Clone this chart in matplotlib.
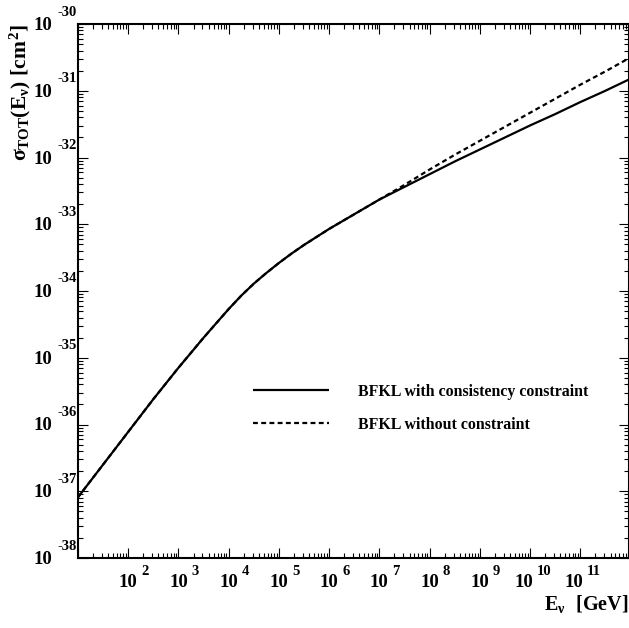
import numpy as np
import matplotlib
matplotlib.use('Agg')
import matplotlib.pyplot as plt
import matplotlib.transforms as mtransforms
from matplotlib.ticker import LogLocator, NullFormatter

# ---- data (log10 values) ----
log_E = [1.0, 1.5, 2.0, 2.5, 3.0, 3.5, 4.0, 4.25, 4.5, 4.75, 5.0, 5.25, 5.5,
         6.0, 6.5, 7.0, 7.5, 8.0, 8.5, 9.0, 9.5, 10.0, 10.5, 11.0, 11.5, 12.0]
log_sigma_constraint = [-37.09, -36.60, -36.11, -35.62, -35.15, -34.70, -34.27,
                        -34.07, -33.89, -33.73, -33.58, -33.44, -33.31,
                        -33.07, -32.85, -32.63, -32.44, -32.25, -32.06, -31.88,
                        -31.70, -31.52, -31.35, -31.17, -31.00, -30.82]
log_sigma_noconstraint = [-37.09, -36.60, -36.11, -35.62, -35.15, -34.70, -34.27,
                          -34.07, -33.89, -33.73, -33.58, -33.44, -33.31,
                          -33.07, -32.85, -32.63, -32.41, -32.18, -31.96, -31.75,
                          -31.54, -31.33, -31.12, -30.91, -30.71, -30.50]
x_tick_exps = [2, 3, 4, 5, 6, 7, 8, 9, 10, 11]
y_tick_exps = [-38, -37, -36, -35, -34, -33, -32, -31, -30]
legend_labels = ["BFKL with consistency constraint", "BFKL without constraint"]
xlabel_text = r"$E_{\nu}\ \ [GeV]$"
ylabel_text = r"$\sigma_{TOT}(E_{\nu})\ [cm^{2}]$"

# ---- style ----
plt.rcParams['mathtext.fontset'] = 'custom'
plt.rcParams['mathtext.rm'] = 'Liberation Serif:bold'
plt.rcParams['mathtext.it'] = 'Liberation Serif:bold'
plt.rcParams['mathtext.bf'] = 'Liberation Serif:bold'
plt.rcParams['font.family'] = ['Liberation Serif', 'DejaVu Serif']
plt.rcParams['font.weight'] = 'bold'

W, H = 629, 628
fig = plt.figure(figsize=(W / 100, H / 100), dpi=100)
ax = fig.add_axes([78 / W, 1 - 558 / H, (628.5 - 78) / W, (558 - 24) / H])

E = 10 ** np.array(log_E)
l1, = ax.plot(E, 10 ** np.array(log_sigma_constraint), color='black', lw=1.6,
              solid_capstyle='butt')
l2, = ax.plot(E, 10 ** np.array(log_sigma_noconstraint), color='black', lw=1.6,
              linestyle=(0, (2.2, 1.5)))

ax.set_xscale('log')
ax.set_yscale('log')
ax.set_xlim(1e1, 10 ** 11.96)
ax.set_ylim(1e-38, 1e-30)
for axis in (ax.xaxis, ax.yaxis):
    axis.set_major_locator(LogLocator(base=10, numticks=30))
    axis.set_minor_locator(LogLocator(base=10, subs=np.arange(2, 10), numticks=30))
    axis.set_minor_formatter(NullFormatter())
ax.tick_params(which='both', direction='in', top=True, right=True,
               labelbottom=False, labelleft=False)
ax.tick_params(which='major', length=7.2, width=0.8)
ax.tick_params(which='minor', length=3.6, width=0.8)
for s in ax.spines.values():
    s.set_linewidth(1.5)


def px(dx, dy):
    return mtransforms.ScaledTranslation(dx / fig.dpi, dy / fig.dpi, fig.dpi_scale_trans)


# x tick labels
tx = mtransforms.blended_transform_factory(ax.transData, ax.transAxes)
for e in x_tick_exps:
    shift = -6.5 if len(str(e)) > 1 else 0
    ax.text(10.0 ** e, 0, '10', transform=tx + px(shift, -29), ha='center',
            va='baseline', fontsize=13.5, fontweight='bold')
    ax.text(10.0 ** e, 0, str(e), transform=tx + px(shift + 13, -17), ha='left',
            va='baseline', fontsize=10.5, fontweight='bold')

# y tick labels
ty = mtransforms.blended_transform_factory(ax.transAxes, ax.transData)
for e in y_tick_exps:
    ax.text(0, 10.0 ** e, '10', transform=ty + px(-26, -6), ha='right',
            va='baseline', fontsize=13.5, fontweight='bold')
    ax.text(0, 10.0 ** e, str(e), transform=ty + px(-21, 8.5), ha='left',
            va='baseline', fontsize=10.5, fontweight='bold')

# axis titles
ax.text(1, 0, xlabel_text, transform=ax.transAxes + px(0, -52), ha='right',
        va='baseline', fontsize=14.5)
ax.text(0, 1, ylabel_text, transform=ax.transAxes + px(-58, 0), ha='center',
        va='top', rotation=90, fontsize=15.5)

ax.legend([l1, l2], legend_labels, loc='center left',
          bbox_to_anchor=(253 / W, 1 - 408.3 / H), bbox_transform=fig.transFigure,
          frameon=False, borderpad=0, borderaxespad=0, handlelength=4.8,
          handletextpad=1.85, labelspacing=1.1,
          prop={'family': 'Liberation Serif', 'weight': 'bold', 'size': 11.4})

fig.savefig('out.png', dpi=100)
